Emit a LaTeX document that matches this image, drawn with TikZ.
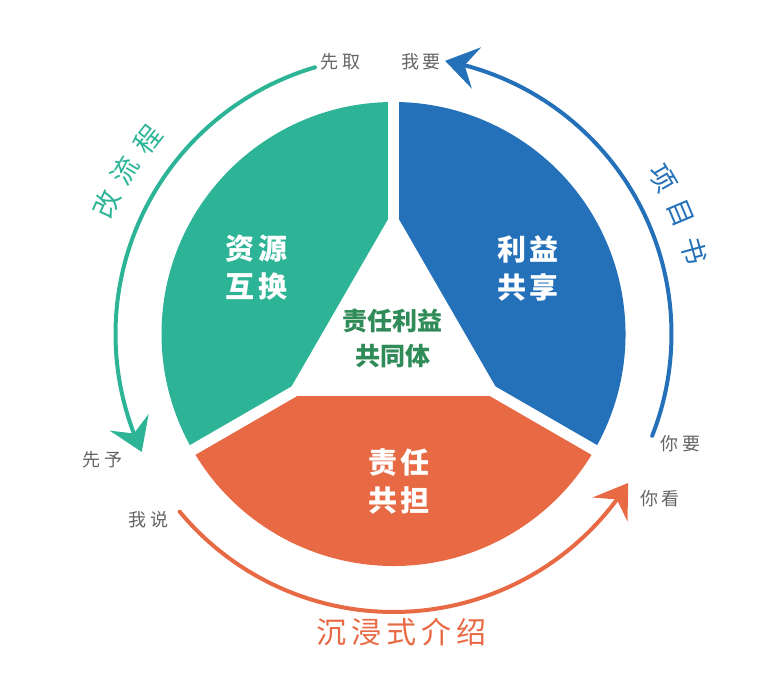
\documentclass[tikz,border=0pt]{standalone}
\usepackage{fontspec}
\setmainfont{Noto Sans CJK SC}
\usetikzlibrary{arrows.meta,bending}
\definecolor{cgreen}{HTML}{2DB497}
\definecolor{cblue}{HTML}{2471B9}
\definecolor{corange}{HTML}{E86A45}
\definecolor{cdark}{HTML}{2F8B57}
\definecolor{cgray}{HTML}{646464}
\tikzset{
  piecetext/.style={text=white, font=\fontsize{29}{38}\selectfont\bfseries, align=center},
  centertext/.style={text=cdark, font=\fontsize{25}{35}\selectfont\bfseries, align=center},
  graylabel/.style={text=cgray, font=\fontsize{18}{18}\selectfont},
  arcchar/.style={font=\fontsize{27}{27}\selectfont, inner sep=0pt},
  bigtip/.style={-{Stealth[length=32pt,width=42pt,inset=12pt]}},
  arcline/.style={line width=4pt, line cap=round}
}
\begin{document}
\begin{tikzpicture}[x=1pt,y=1pt]
\useasboundingbox (-393.5,-348) rectangle (366.5,334);
% pie sectors
\fill[cgreen] (0,0) -- (90:232) arc[start angle=90,end angle=210,radius=232] -- cycle;
\fill[cblue] (0,0) -- (-30:232) arc[start angle=-30,end angle=90,radius=232] -- cycle;
\fill[corange] (0,0) -- (210:232) arc[start angle=210,end angle=330,radius=232] -- cycle;
\foreach \a in {90,210,330} \draw[white,line width=11pt] (0,0) -- (\a:240);
\fill[white] (90:124) -- (210:124) -- (330:124) -- cycle;
% texts inside
\node[piecetext] (res) at (-136.5,66) {资\hspace{4pt}源\\互\hspace{4pt}换};
\node[piecetext] (ben) at (134.5,66) {利\hspace{4pt}益\\共\hspace{4pt}享};
\node[piecetext] (duty) at (5.5,-147) {责\hspace{4pt}任\\共\hspace{4pt}担};
\node[centertext] (core) at (-0.5,-4) {责任利益\\共同体};
% arcs
\coordinate (gs) at (106.4:278);
\coordinate (bs) at (-21.5:278);
\coordinate (os) at (219.7:278);
\draw[cgreen, arcline, bigtip] (gs) arc[start angle=106.4, end angle=205.1, radius=278];
\draw[cblue, arcline, bigtip] (bs) arc[start angle=-21.5, end angle=79.3, radius=278];
\draw[corange, arcline, bigtip] (os) arc[start angle=219.7, end angle=327.6, radius=278];
% end labels
\node[graylabel] (l1) at (-52.5,272) {先\hspace{4pt}取};
\node[graylabel] (l2) at (27.5,272) {我\hspace{4pt}要};
\node[graylabel] (l3) at (-290.5,-126) {先\hspace{4pt}予};
\node[graylabel] (l4) at (-244.5,-186) {我\hspace{4pt}说};
\node[graylabel] (l5) at (286.5,-110) {你\hspace{4pt}要};
\node[graylabel] (l6) at (266.5,-165) {你\hspace{4pt}看};
% arc labels
\node[arcchar, text=cgreen, rotate=65.7] (g1) at (155.7:315) {改};
\node[arcchar, text=cgreen, rotate=58.7] (g2) at (148.7:314) {流};
\node[arcchar, text=cgreen, rotate=51.7] (g3) at (141.7:313) {程};
\node[arcchar, text=cblue, rotate=-60.0] (b1) at (30.0:311) {项};
\node[arcchar, text=cblue, rotate=-67.2] (b2) at (22.8:311) {目};
\node[arcchar, text=cblue, rotate=-74.6] (b3) at (15.4:312) {书};
\node[text=corange, font=\fontsize{30}{30}\selectfont] (o1) at (8.5,-298) {沉\hspace{5pt}浸\hspace{5pt}式\hspace{5pt}介\hspace{5pt}绍};
\end{tikzpicture}
\end{document}
